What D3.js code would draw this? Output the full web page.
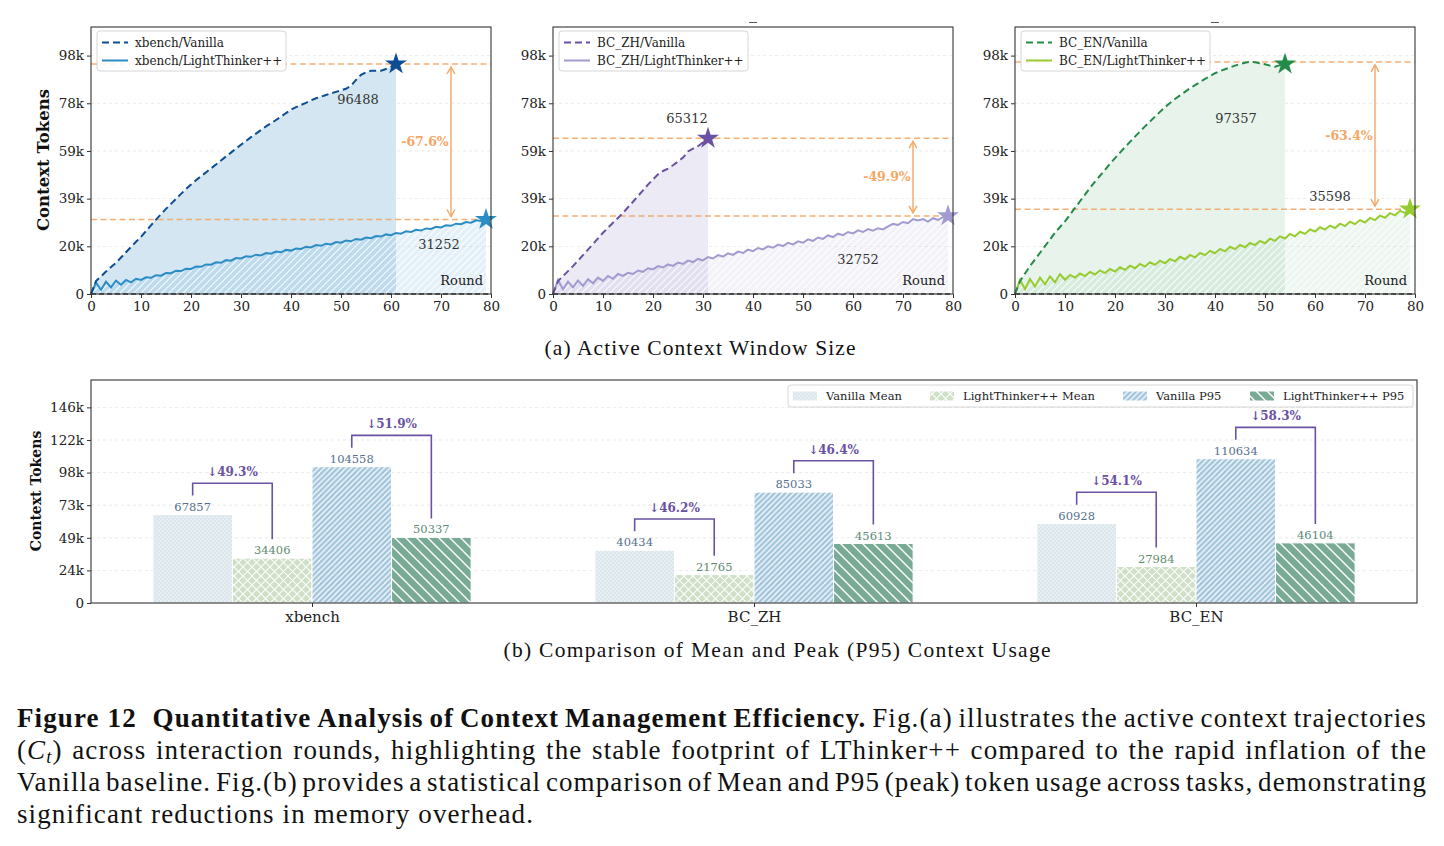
<!DOCTYPE html>
<html><head><meta charset="utf-8">
<script src="https://cdn.jsdelivr.net/npm/d3@7"></script>
<style>body{margin:0;background:#fff}</style>
</head><body>
<svg id="fig" width="1444" height="846" xmlns="http://www.w3.org/2000/svg"></svg>
<script>
// ---------------- DATA (thousands of tokens per round) ----------------
const xbenchVanilla = [0,5.4,7.4,9.4,11.3,13.1,15.3,17.5,19.7,21.9,24.0,26.4,28.8,31.2,33.5,35.7,37.8,39.9,42.0,44.0,45.9,47.7,49.4,51.0,52.7,54.3,56.0,57.7,59.3,61.0,62.6,64.2,65.8,67.3,68.8,70.3,71.6,73.0,74.4,75.9,77.3,78.4,79.3,80.2,81.2,82.1,82.8,83.5,84.2,84.8,85.4,86.1,87.3,89.8,91.9,93.0,93.6,93.7,93.7,94.4,95.4,96.488];
const xbenchLT = [0,4.8,1.8,5.2,2.8,5.6,3.9,5.9,4.9,6.4,5.9,7.0,6.8,7.9,7.7,8.8,8.7,9.7,9.6,10.6,10.5,11.5,11.4,12.4,12.3,13.3,13.1,14.2,14.0,15.1,14.9,15.8,15.6,16.5,16.2,17.2,16.9,17.8,17.5,18.5,18.2,19.1,18.9,19.8,19.5,20.5,20.2,21.1,20.8,21.8,21.5,22.4,22.1,23.1,22.8,23.7,23.4,24.3,24.1,25.0,24.7,25.6,25.3,26.3,26.0,26.9,26.6,27.5,27.3,28.2,27.9,28.8,28.6,29.5,29.3,30.2,29.9,30.9,30.6,31.252];
const zhVanilla = [0,5.4,7.5,9.6,11.7,14.0,16.3,18.6,20.9,23.3,25.7,27.8,29.9,31.9,34.0,36.4,38.7,41.1,43.5,45.9,48.0,50.2,51.6,52.6,54.0,55.6,57.2,59.8,61.0,62.0,63.6,65.312];
const zhLT = [0,5.9,2.0,5.2,2.8,5.6,3.4,6.2,4.5,6.9,5.5,7.6,6.4,8.4,7.6,8.9,8.4,9.8,9.3,10.8,10.3,11.7,11.1,12.4,11.8,13.2,12.6,14.0,13.4,14.7,14.1,15.5,14.9,16.3,15.7,17.1,16.4,17.8,17.2,18.6,18.0,19.3,18.7,20.0,19.4,20.7,20.1,21.5,20.8,22.1,21.5,22.9,22.3,23.7,23.1,24.6,23.9,25.3,24.7,26.0,25.4,26.7,26.0,27.2,26.6,27.6,27.1,28.4,29.4,29.0,30.2,29.7,31.4,30.8,31.4,30.4,31.8,31.1,32.2,32.752];
const enVanilla = [0,5.4,8.6,11.7,14.5,17.3,20.1,22.9,25.7,28.1,30.5,33.3,36.1,38.9,41.7,44.5,47.1,49.6,52.1,54.6,57.0,59.3,61.6,63.8,66.0,68.2,70.3,72.4,74.4,76.4,78.4,80.1,81.8,83.3,84.8,86.3,87.6,88.9,90.2,91.4,92.6,93.5,94.3,95.0,95.8,96.5,97.0,97.357,97.2,96.8,96.4,95.8,95.3,96.0,96.4];
const enLT = [0,5.9,2.1,6.3,3.1,6.9,4.1,7.4,4.9,8.3,6.0,8.0,6.9,8.6,7.5,9.3,8.2,9.9,8.8,10.5,9.4,11.2,10.1,11.9,10.8,12.6,11.5,13.3,12.2,14.0,12.9,14.7,13.7,15.6,14.6,16.4,15.4,17.2,16.3,18.1,17.1,18.9,17.9,19.8,18.8,20.6,19.6,21.4,20.5,22.3,21.3,23.2,22.3,24.2,23.3,25.2,24.2,26.1,25.2,27.1,26.2,28.0,27.0,28.7,27.7,29.5,28.5,30.3,29.3,31.0,30.0,31.9,31.0,32.9,32.0,33.9,33.0,34.9,34.0,35.598];
const panelNames = ["xbench","BC_ZH","BC_EN"];
const peakVanilla = [96488, 65312, 97357];
const peakLT = [31252, 32752, 35598];
const topYTicks = [0,20000,40000,60000,80000,100000];
const topXTicks = [0,10,20,30,40,50,60,70,80];

const categories = ["xbench","BC_ZH","BC_EN"];
const seriesNames = ["Vanilla Mean","LightThinker++ Mean","Vanilla P95","LightThinker++ P95"];
const vanillaMean = [67857, 40434, 60928];
const ltMean = [34406, 21765, 27984];
const vanillaP95 = [104558, 85033, 110634];
const ltP95 = [50337, 45613, 46104];
const bottomYTicks = [0,25000,50000,75000,100000,125000,150000];

// ---------------- RENDER ----------------
const svg = d3.select("#fig");
const F = "DejaVu Serif";
const CF = "Liberation Serif";
const defs = svg.append("defs");
const fmtK = d => d === 0 ? "0" : Math.round(d/1024) + "k";

function linePattern(id, bg, size, dir, sw, lineColor, bgOpacity, lineOpacity) {
  const p = defs.append("pattern").attr("id", id).attr("patternUnits","userSpaceOnUse")
    .attr("width", size).attr("height", size);
  p.append("rect").attr("width", size).attr("height", size).attr("fill", bg).attr("fill-opacity", bgOpacity==null?1:bgOpacity);
  const s = size;
  const d = dir === "/" ?
    `M0,${s} L${s},0 M${-s/2},${s/2} L${s/2},${-s/2} M${s/2},${3*s/2} L${3*s/2},${s/2}` :
    `M0,0 L${s},${s} M${-s/2},${s/2} L${s/2},${3*s/2} M${s/2},${-s/2} L${3*s/2},${s/2}`;
  p.append("path").attr("d", d).attr("stroke", lineColor).attr("stroke-width", sw).attr("fill","none")
    .attr("stroke-opacity", lineOpacity==null?1:lineOpacity);
}

const topCfg = [
  {van: xbenchVanilla, lt: xbenchLT, left: 91, cVan:"#0c4d93", cLT:"#2c8dc5", fVan:"#d3e6f2", fLT:"#2c8dc5", fLTo:0.13,
   vanLab:[53.4, 81.4], ltLab:[69.6, 20.6]},
  {van: zhVanilla, lt: zhLT, left: 553, cVan:"#6a51a3", cLT:"#a29bd0", fVan:"#ebeaf5", fLT:"#7b6fb8", fLTo:0.09,
   vanLab:[26.8, 73.8], ltLab:[61, 14.7]},
  {van: enVanilla, lt: enLT, left: 1015, cVan:"#238b48", cLT:"#97cc30", fVan:"#e7f3eb", fLT:"#3a9a5a", fLTo:0.09,
   vanLab:[44.2, 73.8], ltLab:[63, 41.1]}
];
const pTop = 27, pBot = 294, pw = 400;
const orange = "#f4a765";

topCfg.forEach((c, i) => {
  const g = svg.append("g");
  const x = d3.scaleLinear().domain([0, 80]).range([c.left, c.left + pw]);
  const y = d3.scaleLinear().domain([0, 112000]).range([pBot, pTop]);
  linePattern("ltHatch"+i, c.fLT, 7, "/", 1.1, "#ffffff", c.fLTo, 0.85);

  g.selectAll(".grid").data(topYTicks.slice(1)).join("line")
    .attr("x1", c.left).attr("x2", c.left+pw).attr("y1", d=>y(d)).attr("y2", d=>y(d))
    .attr("stroke", "#bbb").attr("stroke-width", 0.6).attr("stroke-dasharray","3,3").attr("opacity",0.5);

  const area = d3.area().x((d,k)=>x(k)).y0(y(0)).y1(d=>y(d*1000));
  g.append("path").datum(c.van).attr("d", area).attr("fill", c.fVan);
  g.append("path").datum(c.lt).attr("d", area).attr("fill", `url(#ltHatch${i})`);

  [peakVanilla[i], peakLT[i]].forEach(v => {
    g.append("line").attr("x1", c.left).attr("x2", c.left+pw).attr("y1", y(v)).attr("y2", y(v))
      .attr("stroke", orange).attr("stroke-width", 1.5).attr("stroke-dasharray","6,3.5").attr("opacity",0.9);
  });

  g.append("line").attr("x1", c.left).attr("x2", c.left+pw).attr("y1", y(0)).attr("y2", y(0))
    .attr("stroke","#333").attr("stroke-width",1.3).attr("stroke-dasharray","5,3");

  const line = d3.line().x((d,k)=>x(k)).y(d=>y(d*1000));
  g.append("path").datum(c.lt).attr("d", line).attr("fill","none").attr("stroke", c.cLT).attr("stroke-width", 2);
  g.append("path").datum(c.van).attr("d", line).attr("fill","none").attr("stroke", c.cVan)
    .attr("stroke-width", 2).attr("stroke-dasharray","7,4");

  const star = d3.symbol().type(d3.symbolStar).size(150);
  g.append("path").attr("d", star).attr("fill", c.cVan)
    .attr("transform", `translate(${x(c.van.length-1)},${y(c.van[c.van.length-1]*1000)})`);
  g.append("path").attr("d", star).attr("fill", c.cLT)
    .attr("transform", `translate(${x(c.lt.length-1)},${y(c.lt[c.lt.length-1]*1000)})`);

  const ax = x(72), ya = y(peakVanilla[i]) + 3, yb = y(peakLT[i]) - 3;
  g.append("line").attr("x1", ax).attr("x2", ax).attr("y1", ya).attr("y2", yb)
    .attr("stroke", orange).attr("stroke-width", 1.4);
  g.append("path").attr("d", `M${ax-4},${ya+7} L${ax},${ya} L${ax+4},${ya+7}`).attr("fill","none").attr("stroke",orange).attr("stroke-width",1.4);
  g.append("path").attr("d", `M${ax-4},${yb-7} L${ax},${yb} L${ax+4},${yb-7}`).attr("fill","none").attr("stroke",orange).attr("stroke-width",1.4);
  const pct = ((1 - peakLT[i]/peakVanilla[i])*100).toFixed(1);
  g.append("text").attr("x", x(66.8)).attr("y", (ya+yb)/2).attr("dy","0.35em").attr("text-anchor","middle")
    .attr("font-family", F).attr("font-weight","bold").attr("font-size", 12.5).attr("fill", orange).text("-" + pct + "%");

  g.append("text").attr("x", x(c.vanLab[0])).attr("y", y(c.vanLab[1]*1000)).attr("dy","0.35em").attr("text-anchor","middle")
    .attr("font-family",F).attr("font-size",13).attr("fill","#333").text(peakVanilla[i]);
  g.append("text").attr("x", x(c.ltLab[0])).attr("y", y(c.ltLab[1]*1000)).attr("dy","0.35em").attr("text-anchor","middle")
    .attr("font-family",F).attr("font-size",13).attr("fill","#333").text(peakLT[i]);
  g.append("text").attr("x", c.left+pw-8).attr("y", pBot-9).attr("text-anchor","end")
    .attr("font-family",F).attr("font-size",13).attr("fill","#222").text("Round");

  g.append("rect").attr("x", c.left).attr("y", pTop).attr("width", pw).attr("height", pBot-pTop)
    .attr("fill","none").attr("stroke","#333").attr("stroke-width",1.1);

  const xa = g.append("g").attr("transform", `translate(0,${pBot})`)
    .call(d3.axisBottom(x).tickValues(topXTicks).tickSize(4).tickPadding(3).tickFormat(d3.format("d")));
  const ya2 = g.append("g").attr("transform", `translate(${c.left},0)`)
    .call(d3.axisLeft(y).tickValues(topYTicks).tickSize(4).tickPadding(3).tickFormat(fmtK));
  [xa, ya2].forEach(a => {
    a.select(".domain").remove();
    a.selectAll("text").attr("font-family",F).attr("font-size",13.5).attr("fill","#222");
    a.selectAll("line").attr("stroke","#333");
  });

  const lg = g.append("g").attr("transform", `translate(${c.left+6},31)`);
  lg.append("rect").attr("width",189).attr("height",40).attr("rx",3).attr("fill","#fff").attr("fill-opacity",0.85)
    .attr("stroke","#ccc").attr("stroke-width",0.8);
  lg.append("line").attr("x1",5).attr("x2",31).attr("y1",11.5).attr("y2",11.5).attr("stroke",c.cVan).attr("stroke-width",2).attr("stroke-dasharray","7,4");
  lg.append("line").attr("x1",5).attr("x2",31).attr("y1",29.5).attr("y2",29.5).attr("stroke",c.cLT).attr("stroke-width",2);
  lg.append("text").attr("x",38).attr("y",15.5).attr("font-family",F).attr("font-size",12).attr("fill","#222").text(panelNames[i]+"/Vanilla");
  lg.append("text").attr("x",38).attr("y",33.5).attr("font-family",F).attr("font-size",12).attr("fill","#222").text(panelNames[i]+"/LightThinker++");

  if (i > 0) {
    g.append("line").attr("x1", c.left+pw/2-4).attr("x2", c.left+pw/2+4).attr("y1",22.5).attr("y2",22.5).attr("stroke","#555").attr("stroke-width",1);
  }
});

svg.append("text").attr("transform","translate(49,160) rotate(-90)").attr("text-anchor","middle")
  .attr("font-family",F).attr("font-weight","bold").attr("font-size",16.5).attr("fill","#111").text("Context Tokens");
svg.append("text").attr("x",700).attr("y",355).attr("text-anchor","middle").attr("font-family",CF).attr("font-size",21.5)
  .attr("fill","#111").attr("textLength",311).attr("lengthAdjust","spacing").text("(a) Active Context Window Size");

// ---------------- BOTTOM BAR CHART ----------------
{
  const L = 91, R = 1417, T = 380, B = 603;
  const x = d3.scaleLinear().domain([-0.5, 2.5]).range([L, R]);
  const y = d3.scaleLinear().domain([0, 171000]).range([B, T]);
  const bw = 0.18;
  const g = svg.append("g");

  { const p = defs.append("pattern").attr("id","dots").attr("patternUnits","userSpaceOnUse").attr("width",4).attr("height",4);
    p.append("rect").attr("width",4).attr("height",4).attr("fill","#dae6eb");
    p.append("circle").attr("cx",1).attr("cy",1).attr("r",0.75).attr("fill","#fff").attr("opacity",0.9);
    p.append("circle").attr("cx",3).attr("cy",3).attr("r",0.75).attr("fill","#fff").attr("opacity",0.9); }
  { const p = defs.append("pattern").attr("id","xhatch").attr("patternUnits","userSpaceOnUse").attr("width",9).attr("height",9);
    p.append("rect").attr("width",9).attr("height",9).attr("fill","#cfe0c6");
    p.append("path").attr("d","M0,0 L9,9 M0,9 L9,0").attr("stroke","#fff").attr("stroke-width",1.1); }
  linePattern("fhatch", "#a3c6dc", 5.5, "/", 1.2, "#fff");
  linePattern("bhatch", "#79aa96", 11, "\\", 1.4, "#fff");
  const fills = ["url(#dots)","url(#xhatch)","url(#fhatch)","url(#bhatch)"];
  const labColors = ["#55708e","#5f8a6e","#55708e","#5b8a78"];
  const series = [vanillaMean, ltMean, vanillaP95, ltP95];

  g.selectAll(".bg").data(bottomYTicks.slice(1)).join("line")
    .attr("x1",L).attr("x2",R).attr("y1",d=>y(d)).attr("y2",d=>y(d))
    .attr("stroke","#bbb").attr("stroke-width",0.6).attr("stroke-dasharray","3,3").attr("opacity",0.5);

  series.forEach((s, si) => {
    g.selectAll(".bar"+si).data(s).join("rect")
      .attr("x", (d,ci) => x(ci + (si-2)*bw))
      .attr("width", x(bw) - x(0))
      .attr("y", d => y(d)).attr("height", d => y(0) - y(d))
      .attr("fill", fills[si]).attr("stroke","#fff").attr("stroke-width",1);
    g.selectAll(".lab"+si).data(s).join("text")
      .attr("x", (d,ci) => x(ci + (si-1.5)*bw)).attr("y", d => y(d) - 4)
      .attr("text-anchor","middle").attr("font-family",F).attr("font-size",11.5).attr("fill", labColors[si]).text(d=>d);
  });

  const purple = "#6a51a3";
  categories.forEach((cat, ci) => {
    [[vanillaMean, ltMean, 0], [vanillaP95, ltP95, 2]].forEach(([a, b, si]) => {
      const va = a[ci], vb = b[ci];
      const xa = x(ci + (si-1.5)*bw), xb = x(ci + (si-0.5)*bw);
      const yt = y(Math.max(va, vb) + 24000);
      g.append("path").attr("d", `M${xa},${y(va+14500)} V${yt} H${xb} V${y(vb+14500)}`)
        .attr("fill","none").attr("stroke",purple).attr("stroke-width",1.6);
      const pct = ((1 - vb/va)*100).toFixed(1);
      g.append("text").attr("x",(xa+xb)/2).attr("y", yt-7).attr("text-anchor","middle")
        .attr("font-family",F).attr("font-weight","bold").attr("font-size",12).attr("fill",purple).text("\u2193" + pct + "%");
    });
  });

  g.append("rect").attr("x",L).attr("y",T).attr("width",R-L).attr("height",B-T).attr("fill","none")
    .attr("stroke","#333").attr("stroke-width",1.1);

  const xa = g.append("g").attr("transform",`translate(0,${B})`)
    .call(d3.axisBottom(x).tickValues([0,1,2]).tickSize(4).tickPadding(4).tickFormat(i=>categories[i]));
  xa.selectAll("text").attr("font-size",15);
  const ya = g.append("g").attr("transform",`translate(${L},0)`)
    .call(d3.axisLeft(y).tickValues(bottomYTicks).tickSize(4).tickPadding(3).tickFormat(fmtK));
  ya.selectAll("text").attr("font-size",13.5);
  [xa, ya].forEach(a => {
    a.select(".domain").remove();
    a.selectAll("text").attr("font-family",F).attr("fill","#222");
    a.selectAll("line").attr("stroke","#333");
  });

  svg.append("text").attr("transform","translate(41,491) rotate(-90)").attr("text-anchor","middle")
    .attr("font-family",F).attr("font-weight","bold").attr("font-size",14).attr("fill","#111").text("Context Tokens");

  const lg = g.append("g").attr("transform","translate(788,385)");
  lg.append("rect").attr("width",625).attr("height",22).attr("rx",3).attr("fill","#fff").attr("fill-opacity",0.85)
    .attr("stroke","#ccc").attr("stroke-width",0.8);
  const offs = [5, 142, 335, 462];
  seriesNames.forEach((n, si) => {
    lg.append("rect").attr("x",offs[si]).attr("y",6.5).attr("width",24).attr("height",9).attr("fill",fills[si]);
    lg.append("text").attr("x",offs[si]+33).attr("y",15).attr("font-family",F).attr("font-size",11.5).attr("fill","#222").text(n);
  });

  svg.append("text").attr("x",777).attr("y",657).attr("text-anchor","middle").attr("font-family",CF).attr("font-size",21.5)
    .attr("fill","#111").attr("textLength",547).attr("lengthAdjust","spacing").text("(b) Comparison of Mean and Peak (P95) Context Usage");
}

// ---------------- CAPTION ----------------
{
  const CS = 27, X0 = 17, X1 = 1427;
  const lines = [
    {y:727, just:true, words:[
      [{t:"Figure\u00a012\u00a0\u00a0Quantitative", b:1}],[{t:"Analysis",b:1}],[{t:"of",b:1}],[{t:"Context",b:1}],[{t:"Management",b:1}],[{t:"Efficiency.",b:1}],
      [{t:"Fig.(a)"}],[{t:"illustrates"}],[{t:"the"}],[{t:"active"}],[{t:"context"}],[{t:"trajectories"}]]},
    {y:759, just:true, words:[
      [{t:"("},{t:"C",i:1},{t:"t",i:1,sub:1},{t:")"}], ..."across interaction rounds, highlighting the stable footprint of LThinker++ compared to the rapid inflation of the".split(" ").map(w=>[{t:w}])]},
    {y:791, just:true, words:"Vanilla baseline. Fig.(b) provides a statistical comparison of Mean and P95 (peak) token usage across tasks, demonstrating".split(" ").map(w=>[{t:w}])},
    {y:823, just:false, words:"significant reductions in memory overhead.".split(" ").map(w=>[{t:w}])}
  ];
  const cg = svg.append("g").attr("font-family", CF).attr("font-size", CS).attr("fill","#111");
  const probe = cg.append("text").text("significant reductions in memory overhead.");
  const natural = probe.node().getComputedTextLength();
  probe.remove();
  const ls = Math.max(0, (517 - natural) / 42);
  cg.attr("letter-spacing", ls);
  lines.forEach(ln => {
    const els = ln.words.map(parts => {
      const t = cg.append("text").attr("y", ln.y);
      parts.forEach((p, k) => {
        const ts = t.append("tspan").text(p.t);
        if (p.b) ts.attr("font-weight","bold");
        if (p.i) ts.attr("font-style","italic");
        if (p.sub) ts.attr("dy", 4).attr("font-size", CS*0.68);
        else if (k > 0 && parts[k-1].sub) ts.attr("dy", -4);
      });
      return t;
    });
    const widths = els.map(e => e.node().getComputedTextLength());
    const total = d3.sum(widths);
    const gap = ln.just ? (X1 - X0 - total) / (els.length - 1) : CS * 0.25 + ls;
    let cx = X0;
    els.forEach((e, k) => { e.attr("x", cx); cx += widths[k] + gap; });
  });
}
</script>
</body></html>
